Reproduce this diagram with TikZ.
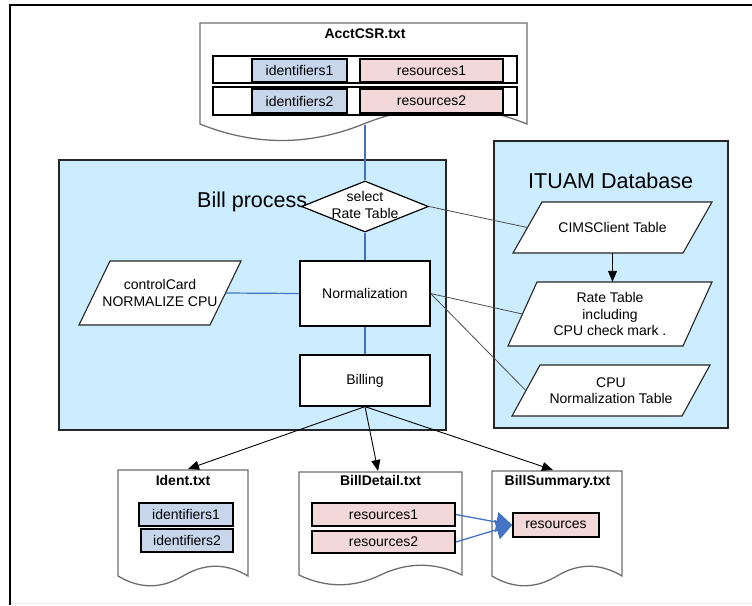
\documentclass[tikz,border=0pt]{standalone}
\usepackage{fontspec}
\setmainfont{Liberation Sans}
\usetikzlibrary{shapes.geometric,arrows.meta,calc}
\definecolor{billblue}{RGB}{204,236,255}
\definecolor{idblue}{RGB}{200,214,236}
\definecolor{respink}{RGB}{242,216,216}
\definecolor{linkblue}{RGB}{68,114,196}
\definecolor{docgray}{RGB}{110,110,110}
\newcommand\docpath[5]{%
  \filldraw[docline] (#1,#3) -- (#2,#3) -- (#2,#4)
   .. controls ({#2-(#2-#1)/6},{#4-#5}) and ({#2-(#2-#1)/3},{#4-#5}) .. ({(#1+#2)/2},#4)
   .. controls ({#1+(#2-#1)/3},{#4+#5}) and ({#1+(#2-#1)/6},{#4+#5}) .. (#1,#4) -- cycle;}
\newcommand\paranode[7]{%
  \filldraw[parashape] ({#2-#4/2+#6/2},{#3-#5/2}) -- ({#2+#4/2+#6/2},{#3-#5/2})
    -- ({#2+#4/2-#6/2},{#3+#5/2}) -- ({#2-#4/2-#6/2},{#3+#5/2}) -- cycle;
  \node[txt, minimum width=#4pt, minimum height=#5pt] (#1) at (#2,#3) {#7};}
\begin{document}
\begin{tikzpicture}[x=1pt,y=-1pt,
  txt/.style={font=\fontsize{14}{16.5}\selectfont, align=center, inner sep=0pt},
  bigtitle/.style={font=\fontsize{21.5}{24}\selectfont, inner sep=0pt},
  doctitle/.style={font=\bfseries\fontsize{14}{16.5}\selectfont, inner sep=0pt},
  procbox/.style={txt, draw=black, line width=1.2pt, fill=white, minimum width=130pt},
  areabox/.style={draw=black!85, line width=1.2pt, fill=billblue, inner sep=0pt},
  docline/.style={draw=docgray, line width=1.3pt, fill=white},
  parashape/.style={draw=black!85, line width=1.1pt, fill=white},
  rowbox/.style={draw=black, line width=1.2pt, fill=white, inner sep=0pt},
  idbox/.style={txt, draw=black, line width=1.5pt, fill=idblue},
  resbox/.style={txt, draw=black, line width=1.5pt, fill=respink},
  blueline/.style={draw=linkblue, line width=1.2pt},
  grayline/.style={draw=black!70, line width=0.8pt},
  arr/.style={draw=black, line width=0.9pt, -{Triangle[length=11pt,width=9pt]}},
  bluearr/.style={draw=linkblue, line width=1.3pt, -{Triangle[length=16pt,width=20pt]}}
]
\useasboundingbox (0,0) rectangle (752,605);
% outer frame
\draw[black!8, line width=0.8pt] (10,603.5) -- (752,603.5);
\draw[black, line width=1.5pt] (10,605) -- (10,5) -- (752,5);

% AcctCSR document
\docpath{200}{527}{23}{124}{22}
\node[doctitle, anchor=base] (accttitle) at (365,38) {AcctCSR.txt};
\node[rowbox, minimum width=304pt, minimum height=27pt] (row1) at (365,69.5) {};
\node[rowbox, minimum width=304pt, minimum height=28pt] (row2) at (365,101) {};
\node[idbox, minimum width=95pt, minimum height=23pt] (aid1) at (299.5,70.5) {identifiers1};
\node[resbox, minimum width=143pt, minimum height=23pt] (ares1) at (431.5,70.5) {resources1};
\node[idbox, minimum width=95pt, minimum height=24pt] (aid2) at (299.5,101) {identifiers2};
\node[resbox, minimum width=143pt, minimum height=24pt] (ares2) at (431.5,101) {resources2};
\coordinate (acctbot) at (365,125);

% areas
\node[areabox, minimum width=387pt, minimum height=270pt] (billarea) at (252.5,295) {};
\node[areabox, minimum width=234pt, minimum height=287pt] (ituam) at (611,284.5) {};
\node[bigtitle, anchor=base west] (billtitle) at (197,207) {Bill process};
\node[bigtitle, anchor=base west] (ituamtitle) at (528,188) {ITUAM Database};

% process nodes
\node[diamond, draw=black, line width=1.2pt, fill=white, minimum width=127pt,
      minimum height=51pt, inner sep=0pt, aspect=2.5] (sel) at (365,206.5) {};
\node[txt] (seltext) at (365,205) {select\\Rate Table};
\node[procbox, minimum height=65pt] (norm) at (365,293.5) {Normalization};
\node[procbox, minimum height=51pt] (billing) at (365,380.5) {Billing};

% parallelograms
\paranode{cc}{160}{293}{131}{64}{31}{controlCard\\NORMALIZE CPU}
\paranode{cims}{612.5}{227.5}{170}{51}{29}{CIMSClient Table}
\paranode{rate}{610}{314}{175}{64}{29}{Rate Table\\including\\CPU check mark .}
\paranode{cpu}{611}{390.5}{170}{51}{28}{CPU\\Normalization Table}

% connectors
\draw[blueline] (acctbot) -- (sel.north);
\draw[blueline] (sel.south) -- (norm.north);
\draw[blueline] (norm.south) -- (billing.north);
\draw[blueline] (cc.east) -- (norm.west);
\draw[grayline] (sel.east) -- (cims.west);
\draw[grayline] (norm.east) -- (rate.west);
\draw[grayline] (norm.east) -- (cpu.west);
\draw[arr] (cims.south) -- (cims.south |- rate.north);

% output documents
\docpath{118}{248}{470}{576}{13}
\docpath{299}{462}{472}{575}{13}
\docpath{492}{622}{471}{576}{13}
\coordinate (identtop) at (188,469);
\coordinate (detailtop) at (378,471);
\coordinate (summtop) at (553,470);
\node[doctitle, anchor=base] (identtitle) at (183,485) {Ident.txt};
\node[doctitle, anchor=base] (detailtitle) at (380.5,485) {BillDetail.txt};
\node[doctitle, anchor=base] (summtitle) at (557.5,485) {BillSummary.txt};
\node[idbox, minimum width=94pt, minimum height=23pt] (bid1) at (186,514.5) {identifiers1};
\node[idbox, minimum width=92pt, minimum height=23pt] (bid2) at (187,540.5) {identifiers2};
\node[resbox, minimum width=143pt, minimum height=23pt] (bres1) at (383.5,514.5) {resources1};
\node[resbox, minimum width=143pt, minimum height=22pt] (bres2) at (383.5,542) {resources2};
\node[resbox, minimum width=86pt, minimum height=24pt] (rsum) at (556,525) {resources};

\draw[arr] (billing.south) -- (identtop);
\draw[arr] (billing.south) -- (detailtop);
\draw[arr] (billing.south) -- (summtop);
\draw[bluearr] (bres1.east) -- (rsum.west);
\draw[bluearr] (bres2.east) -- (rsum.west);
\end{tikzpicture}
\end{document}
